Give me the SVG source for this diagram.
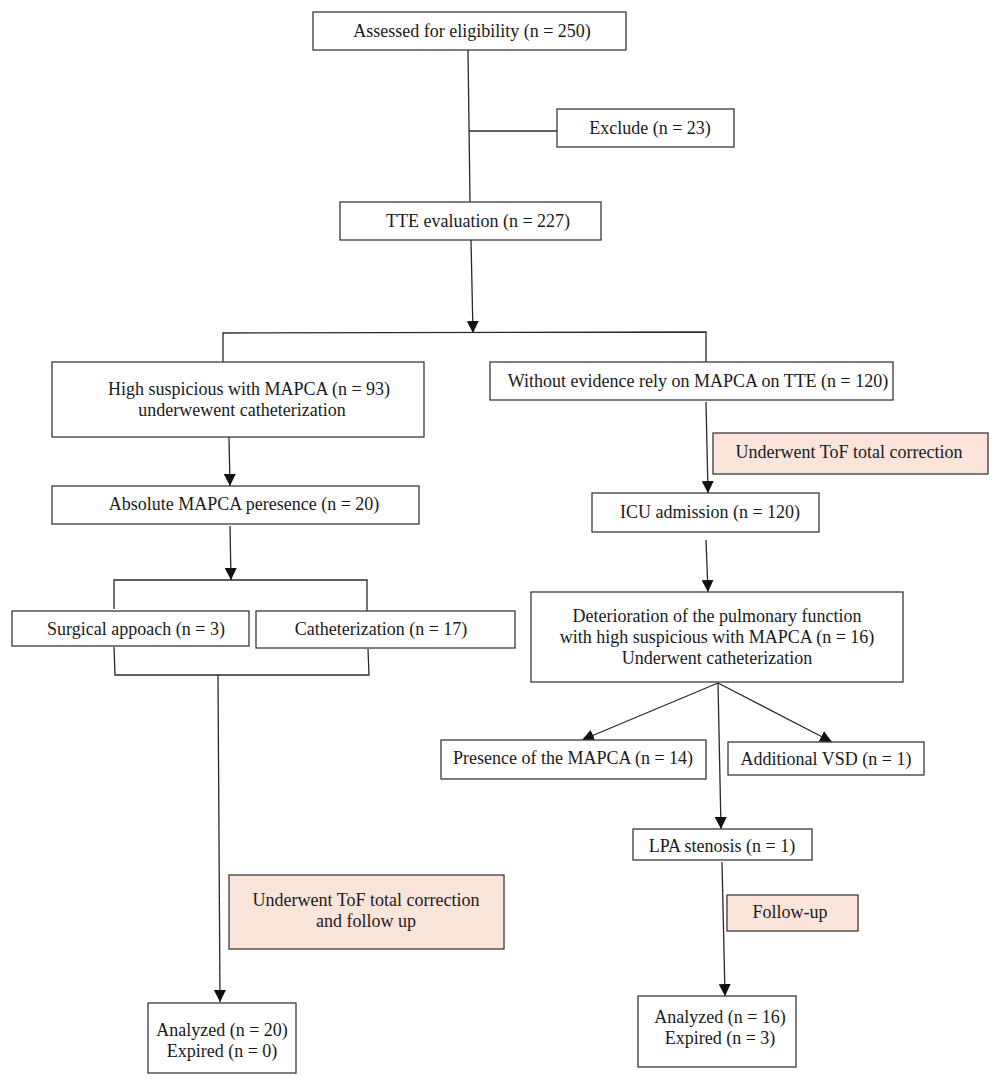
<svg xmlns="http://www.w3.org/2000/svg" width="1000" height="1081" viewBox="0 0 1000 1081">
<defs>
<style>
rect{fill:#fff;stroke:#3a3a3a;stroke-width:1.3}
rect.bg{stroke:none}
rect.pink{fill:#fbe4da}
text{font-family:"Liberation Serif","DejaVu Serif",serif;font-size:18px;fill:#1a1a1a;text-anchor:middle}
.c line,.c polyline{stroke:#2a2a2a;stroke-width:1.3;fill:none}
.a{marker-end:url(#ah)}
</style>
<marker id="ah" viewBox="0 0 10 10" refX="10" refY="5" markerWidth="12" markerHeight="12" markerUnits="userSpaceOnUse" orient="auto">
<path d="M0,0 L10,5 L0,10 Z" fill="#111"/>
</marker>
</defs>
<rect class="bg" width="1000" height="1081"/>
<g class="c">
<line x1="468" y1="50" x2="470" y2="202"/>
<line x1="469" y1="131" x2="557" y2="131"/>
<line class="a" x1="471" y1="240" x2="473" y2="333"/>
<polyline points="223,362 223,333 706,332 706,362"/>
<line class="a" x1="229" y1="437" x2="230" y2="486"/>
<line class="a" x1="230" y1="526" x2="231" y2="580"/>
<polyline points="114,609 114,580 367,580 367,611"/>
<polyline points="114,647 115,675 369,675 368,649"/>
<line class="a" x1="218" y1="675" x2="220" y2="1002"/>
<line class="a" x1="706" y1="402" x2="708" y2="493"/>
<line class="a" x1="706" y1="540" x2="708" y2="592"/>
<line class="a" x1="718" y1="683" x2="582" y2="740"/>
<line class="a" x1="718" y1="683" x2="832" y2="742"/>
<line class="a" x1="718" y1="683" x2="721" y2="829"/>
<line class="a" x1="722" y1="862" x2="725" y2="996"/>
</g>
<g id="assessed"><rect x="313" y="12" width="313" height="38"/><text x="472" y="37">Assessed for eligibility (n = 250)</text></g>
<g id="exclude"><rect x="557" y="109" width="177" height="38"/><text x="650" y="134">Exclude (n = 23)</text></g>
<g id="tte"><rect x="340" y="202" width="261" height="38"/><text x="478" y="227">TTE evaluation (n = 227)</text></g>
<g id="high"><rect x="52" y="362" width="372" height="75"/><text x="249" y="395">High suspicious with MAPCA (n = 93)</text><text x="242" y="416">underwewent catheterization</text></g>
<g id="without"><rect x="490" y="362" width="403" height="38"/><text x="698" y="387">Without evidence rely on MAPCA on TTE (n = 120)</text></g>
<g id="tof1"><rect class="pink" x="713" y="433" width="275" height="41"/><text x="849" y="458">Underwent ToF total correction</text></g>
<g id="absolute"><rect x="52" y="486" width="367" height="38"/><text x="244" y="510">Absolute MAPCA peresence (n = 20)</text></g>
<g id="icu"><rect x="592" y="493" width="227" height="39"/><text x="710" y="518">ICU admission (n = 120)</text></g>
<g id="surgical"><rect x="12" y="611" width="237" height="35"/><text x="136" y="635">Surgical appoach (n = 3)</text></g>
<g id="cath"><rect x="256" y="611" width="259" height="37"/><text x="381" y="635">Catheterization (n = 17)</text></g>
<g id="deterioration"><rect x="531" y="592" width="372" height="90"/><text x="717" y="622">Deterioration of the pulmonary function</text><text x="717" y="643">with high suspicious with MAPCA (n = 16)</text><text x="717" y="664">Underwent catheterization</text></g>
<g id="presence"><rect x="441" y="740" width="265" height="39"/><text x="573" y="764">Presence of the MAPCA (n = 14)</text></g>
<g id="vsd"><rect x="728" y="742" width="196" height="33"/><text x="826" y="765">Additional VSD (n = 1)</text></g>
<g id="lpa"><rect x="633" y="829" width="179" height="31"/><text x="722" y="852">LPA stenosis (n = 1)</text></g>
<g id="tof2"><rect class="pink" x="229" y="875" width="275" height="74"/><text x="366" y="906">Underwent ToF total correction</text><text x="366" y="927">and follow up</text></g>
<g id="followup"><rect class="pink" x="727" y="895" width="131" height="36"/><text x="790" y="918">Follow-up</text></g>
<g id="analyzed1"><rect x="148" y="1003" width="148" height="70"/><text x="222" y="1036">Analyzed (n = 20)</text><text x="222" y="1057">Expired (n = 0)</text></g>
<g id="analyzed2"><rect x="638" y="996" width="158" height="71"/><text x="720" y="1023">Analyzed (n = 16)</text><text x="720" y="1044">Expired (n = 3)</text></g>
</svg>
